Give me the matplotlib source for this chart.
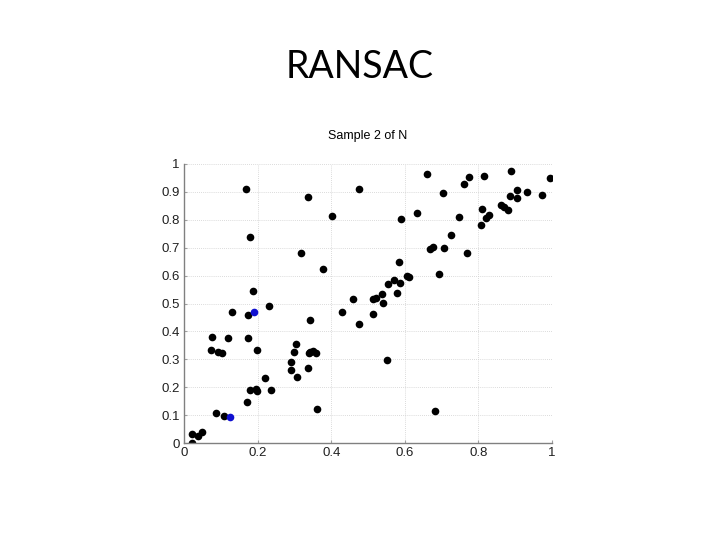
import matplotlib.pyplot as plt
import numpy as np

# black sample points
x_pts = [0.023, 0.021, 0.037, 0.048, 0.086, 0.109, 0.073, 0.091, 0.104, 0.077,
         0.120, 0.130, 0.173, 0.174, 0.198, 0.187, 0.232, 0.170, 0.180, 0.195,
         0.199, 0.221, 0.235, 0.290, 0.298, 0.292, 0.306, 0.303, 0.341, 0.338,
         0.342, 0.350, 0.359, 0.340, 0.361, 0.430, 0.460, 0.476, 0.514, 0.522,
         0.537, 0.542, 0.514, 0.580, 0.551, 0.681, 0.168, 0.179, 0.338, 0.401,
         0.318, 0.377, 0.476, 0.659, 0.705, 0.761, 0.774, 0.814, 0.888, 0.995,
         0.906, 0.932, 0.972, 0.886, 0.904, 0.861, 0.870, 0.880, 0.811, 0.828,
         0.820, 0.807, 0.634, 0.590, 0.748, 0.726, 0.669, 0.677, 0.707, 0.769,
         0.584, 0.694, 0.605, 0.610, 0.570, 0.553, 0.586]
y_pts = [0.000, 0.032, 0.026, 0.038, 0.106, 0.098, 0.332, 0.327, 0.321, 0.381,
         0.375, 0.468, 0.460, 0.375, 0.332, 0.545, 0.491, 0.147, 0.189, 0.193,
         0.186, 0.233, 0.189, 0.290, 0.327, 0.263, 0.238, 0.355, 0.441, 0.268,
         0.327, 0.331, 0.321, 0.324, 0.121, 0.470, 0.516, 0.428, 0.515, 0.520,
         0.533, 0.502, 0.461, 0.537, 0.296, 0.116, 0.909, 0.737, 0.882, 0.814,
         0.682, 0.622, 0.909, 0.965, 0.896, 0.927, 0.952, 0.958, 0.974, 0.951,
         0.907, 0.900, 0.889, 0.884, 0.878, 0.853, 0.845, 0.835, 0.840, 0.818,
         0.805, 0.780, 0.823, 0.802, 0.809, 0.747, 0.695, 0.704, 0.699, 0.680,
         0.649, 0.607, 0.599, 0.594, 0.585, 0.571, 0.573]

# the two sampled points (blue)
x_sample = [0.124, 0.191]
y_sample = [0.094, 0.468]

ticks = [0, 0.2, 0.4, 0.6, 0.8, 1]
yticks = [0, 0.1, 0.2, 0.3, 0.4, 0.5, 0.6, 0.7, 0.8, 0.9, 1]

fig = plt.figure(figsize=(7.2, 5.4), dpi=100)
fig.text(0.5, 0.875, "RANSAC", ha="center", va="center",
         fontsize=27, family="Lato")

ax = fig.add_axes([0.2556, 0.1796, 0.5111, 0.5167])
ax.plot(x_pts, y_pts, "o", color="black", markersize=5.5, markeredgewidth=0)
ax.plot(x_sample, y_sample, "o", color="#1010d0", markersize=5.5, markeredgewidth=0)

ax.set_xlim(0, 1)
ax.set_ylim(0, 1)
ax.set_xticks(ticks)
ax.set_xticklabels(["0", "0.2", "0.4", "0.6", "0.8", "1"])
ax.set_yticks(yticks)
ax.set_yticklabels(["0", "0.1", "0.2", "0.3", "0.4", "0.5", "0.6", "0.7", "0.8", "0.9", "1"])
ax.grid(True, linestyle=(0, (1, 1.5)), color="#cfcfcf", linewidth=0.6)
ax.set_axisbelow(True)

for side in ["top", "right"]:
    ax.spines[side].set_visible(False)
for side in ["left", "bottom"]:
    ax.spines[side].set_color("#808080")
    ax.spines[side].set_linewidth(1.0)

ax.tick_params(direction="in", length=2, color="#a0a0a0", labelsize=9.5,
               labelcolor="#202020", pad=3)
for lab in ax.get_xticklabels() + ax.get_yticklabels():
    lab.set_family("Liberation Sans")

ax.set_title("Sample 2 of N", fontsize=9, family="Liberation Sans", pad=18)

fig.savefig("out.png", dpi=100)
